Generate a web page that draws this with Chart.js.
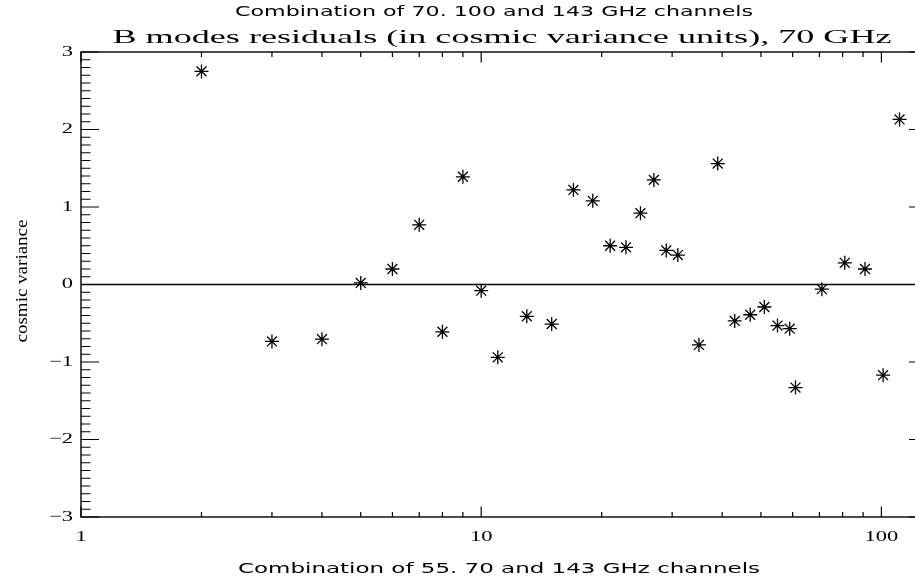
<!DOCTYPE html>
<html>
<head>
<meta charset="utf-8">
<script src="https://cdn.jsdelivr.net/npm/chart.js@4/dist/chart.umd.min.js"></script>
<style>
  html, body { margin: 0; padding: 0; background: #fff; overflow: hidden; }
  #wrap { width: 940px; height: 581px; }
</style>
</head>
<body>
<div id="wrap"><canvas id="grafico" width="940" height="581"></canvas></div>
<script>
// ── DATOS ───────────────────────────────────────────────────
// multipolo (ell) y residuo en unidades de varianza cósmica
const multipolos = [2, 3, 4, 5, 6, 7, 8, 9, 10, 11, 13, 15, 17, 19, 21, 23, 25, 27, 29, 31,
  35, 39, 43, 47, 51, 55, 59, 61, 71, 81, 91, 101, 111];
const residuos = [2.75, -0.735, -0.705, 0.02, 0.20, 0.77, -0.61, 1.39, -0.08, -0.94, -0.41, -0.51,
  1.22, 1.08, 0.50, 0.48, 0.92, 1.35, 0.44, 0.38, -0.78, 1.56, -0.47, -0.39, -0.29, -0.53, -0.57,
  -1.33, -0.06, 0.28, 0.20, -1.17, 2.13];

const limitesX = [1, 130];
const limitesY = [-3, 3];
const ticksY = [-3, -2, -1, 0, 1, 2, 3];
const ticksX = [1, 10, 100];
const ticksXMenores = [2, 3, 4, 5, 6, 7, 8, 9, 20, 30, 40, 50, 60, 70, 80, 90];

const tituloSuperior = 'Combination of 70. 100 and 143 GHz channels';
const tituloPrincipal = 'B modes residuals (in cosmic variance units), 70 GHz';
const etiquetaX = 'Combination of 55. 70 and 143 GHz channels';
const etiquetaY = 'cosmic variance';

// ── UTILIDADES DE TEXTO ─────────────────────────────────────
function textoAncho(ctx, texto, x, y, fuente, ancho) {
  ctx.save();
  ctx.font = fuente;
  const sx = ancho / ctx.measureText(texto).width;
  ctx.translate(x, y);
  ctx.scale(sx, 1);
  ctx.textAlign = 'center';
  ctx.textBaseline = 'middle';
  ctx.fillText(texto, 0, 0);
  ctx.restore();
}

function textoEscalado(ctx, texto, x, y, fuente, sx, alinear) {
  ctx.save();
  ctx.font = fuente;
  ctx.translate(x, y);
  ctx.scale(sx, 1);
  ctx.textAlign = alinear;
  ctx.textBaseline = 'middle';
  ctx.fillText(texto, 0, 0);
  ctx.restore();
}

const fmt = v => (v < 0 ? '\u2212' + Math.abs(v) : String(v));

// ── EJES ESTILO IDL (ticks hacia dentro) ────────────────────
const ejesIDL = {
  id: 'ejesIDL',
  afterDatasetsDraw(chart) {
    const { ctx, chartArea: a, scales: { x, y } } = chart;
    ctx.save();
    ctx.strokeStyle = '#000';
    ctx.fillStyle = '#000';
    ctx.lineWidth = 1.4;
    ctx.strokeRect(a.left, a.top, a.right - a.left, a.bottom - a.top);

    ctx.lineWidth = 1.2;
    ctx.beginPath();
    // eje Y: mayores y menores (10 por unidad)
    ticksY.forEach((v, i) => {
      const py = y.getPixelForValue(v);
      ctx.moveTo(a.left, py); ctx.lineTo(a.left + 18, py);
      ctx.moveTo(a.right, py); ctx.lineTo(a.right - 18, py);
      if (i < ticksY.length - 1) {
        for (let k = 1; k < 10; k++) {
          const pm = y.getPixelForValue(v + k / 10);
          ctx.moveTo(a.left, pm); ctx.lineTo(a.left + 9.5, pm);
          ctx.moveTo(a.right, pm); ctx.lineTo(a.right - 9.5, pm);
        }
      }
    });
    // eje X logarítmico
    ticksX.forEach(v => {
      const px = x.getPixelForValue(v);
      ctx.moveTo(px, a.bottom); ctx.lineTo(px, a.bottom - 10.5);
      ctx.moveTo(px, a.top); ctx.lineTo(px, a.top + 10.5);
    });
    ticksXMenores.forEach(v => {
      const px = x.getPixelForValue(v);
      ctx.moveTo(px, a.bottom); ctx.lineTo(px, a.bottom - 5);
      ctx.moveTo(px, a.top); ctx.lineTo(px, a.top + 5);
    });
    ctx.stroke();

    // etiquetas de ticks
    ticksY.forEach(v => {
      textoEscalado(ctx, fmt(v), a.left - 8, y.getPixelForValue(v), '15px "Liberation Serif"', 1.5, 'right');
    });
    ticksX.forEach(v => {
      textoEscalado(ctx, String(v), x.getPixelForValue(v), a.bottom + 20, '15px "Liberation Serif"', 1.5, 'center');
    });

    // títulos y rótulos
    textoAncho(ctx, tituloSuperior, 494, 12, '14px "DejaVu Sans"', 518);
    textoAncho(ctx, tituloPrincipal, 502, 38, '18px "Liberation Serif"', 779);
    textoAncho(ctx, etiquetaX, 499, 569, '14px "DejaVu Sans"', 522);

    ctx.save();
    ctx.translate(23, 281);
    ctx.rotate(-Math.PI / 2);
    textoAncho(ctx, etiquetaY, 0, 0, '16px "Liberation Serif"', 123);
    ctx.restore();

    ctx.restore();
  }
};

// ── GRÁFICO ─────────────────────────────────────────────────
const ctx = document.getElementById('grafico').getContext('2d');

new Chart(ctx, {
  type: 'scatter',
  data: {
    datasets: [
      {
        label: 'cero',
        type: 'line',
        data: limitesX.map(v => ({ x: v, y: 0 })),
        borderColor: '#000',
        borderWidth: 1.4,
        pointRadius: 0,
        fill: false
      },
      {
        label: 'residuos',
        data: multipolos.map((m, i) => ({ x: m, y: residuos[i] })),
        pointStyle: 'star',
        pointRadius: 7,
        pointBorderColor: '#000',
        pointBackgroundColor: '#000',
        pointBorderWidth: 1.3
      }
    ]
  },
  options: {
    responsive: false,
    devicePixelRatio: 1,
    animation: false,
    layout: { padding: { left: 81, top: 52, right: 13, bottom: 64 } },
    plugins: { legend: { display: false }, tooltip: { enabled: false } },
    scales: {
      x: { type: 'logarithmic', min: limitesX[0], max: limitesX[1], display: false },
      y: { type: 'linear', min: limitesY[0], max: limitesY[1], display: false }
    }
  },
  plugins: [ejesIDL]
});
</script>
</body>
</html>
